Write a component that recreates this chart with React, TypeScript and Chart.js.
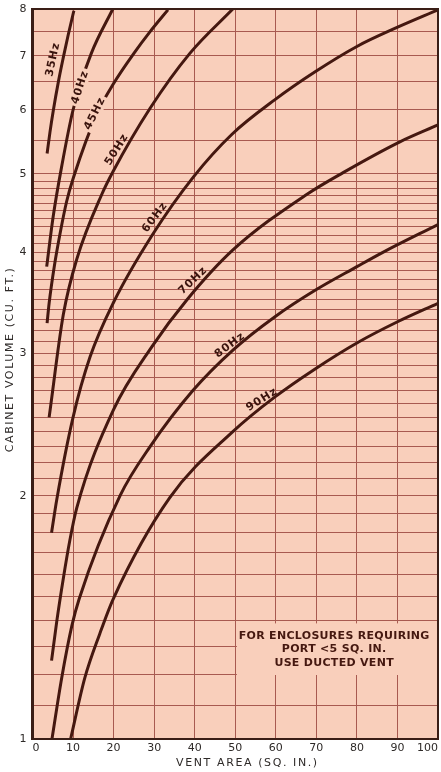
import { useEffect, useRef } from 'react';
import { Chart, registerables } from 'chart.js';

Chart.register(...registerables);

// ---- data ----
const VENT_AREA_TICKS = [0, 10, 20, 30, 40, 50, 60, 70, 80, 90, 100];
const VOLUME_TICK_LABELS = [1, 2, 3, 4, 5, 6, 7, 8];

const AREA_35 = [3.6, 4.3, 5.1, 6.4, 7.6, 8.8, 10.2];
const VOL_35 = [5.3, 5.63, 5.98, 6.51, 6.97, 7.43, 7.96];

const AREA_40 = [3.5, 5.1, 7.2, 10.0, 14.5, 19.8];
const VOL_40 = [3.84, 4.43, 5.11, 6.0, 7.05, 8.0];

const AREA_45 = [3.6, 4.1, 5.4, 6.8, 8.4, 10.1, 16.0, 20.0, 25.0, 29.0, 33.4];
const VOL_45 = [3.27, 3.46, 3.85, 4.22, 4.62, 4.95, 5.95, 6.47, 7.05, 7.5, 7.98];

const AREA_50 = [4.1, 7.6, 10.9, 17.1, 19.9, 29.0, 38.8, 49.4];
const VOL_50 = [2.5, 3.35, 3.92, 4.72, 5.04, 6.03, 7.05, 8.0];

const AREA_60 = [4.7, 6.0, 10.0, 14.2, 20.0, 29.5, 39.7, 49.2, 59.8, 69.7, 80.0, 89.9, 100];
const VOL_60 = [1.8, 1.98, 2.5, 2.97, 3.47, 4.2, 4.96, 5.6, 6.18, 6.69, 7.19, 7.59, 7.98];

const AREA_70 = [4.7, 6.0, 7.6, 9.2, 10.9, 19.9, 29.5, 38.0, 49.5, 67.7, 76.6, 90.6, 100];
const VOL_70 = [1.25, 1.4, 1.58, 1.76, 1.93, 2.55, 3.06, 3.49, 4.03, 4.72, 5.02, 5.48, 5.75];

const AREA_80 = [4.8, 7.2, 9.7, 11.5, 21.6, 29.0, 39.6, 49.5, 59.8, 69.7, 80.0, 86.4, 100];
const VOL_80 = [1.0, 1.19, 1.38, 1.49, 2.0, 2.3, 2.7, 3.03, 3.33, 3.59, 3.84, 4.0, 4.33];

const AREA_90 = [9.4, 12.9, 16.6, 19.9, 33.9, 49.4, 59.8, 69.7, 80.0, 89.9, 100];
const VOL_90 = [1.0, 1.19, 1.35, 1.49, 1.99, 2.4, 2.65, 2.87, 3.09, 3.28, 3.46];

const FREQ_LABELS = ['35Hz', '40Hz', '45Hz', '50Hz', '60Hz', '70Hz', '80Hz', '90Hz'];
// label anchor positions in data units (vent area, volume)
const LABEL_AREA = [5.06, 11.76, 15.4, 20.8, 30.2, 39.6, 48.7, 56.6];
const LABEL_VOLUME = [6.93, 6.4, 5.94, 5.36, 4.42, 3.69, 3.07, 2.63];
const LABEL_ANGLE = [-78, -72, -64, -58, -53, -44, -37, -32];
const LABEL_GAP = [false, true, true, false, false, false, false, false];

const NOTE_LINES = ['FOR ENCLOSURES REQUIRING', 'PORT <5 SQ. IN.', 'USE DUCTED VENT'];
const NOTE_BOX_AREA = [50.4, 100];
const NOTE_BOX_VOLUME = [1.2, 1.39];
const NOTE_CENTER_AREA = 74.4;

const X_TITLE = 'VENT AREA (SQ. IN.)';
const Y_TITLE = 'CABINET VOLUME (CU. FT.)';

// ---- styles ----
const PAPER = '#f9cfbb';
const GRID = '#a85a50';
const INK = '#451810';
const TEXT = '#2e2a28';
const FONT = "'DejaVu Sans', sans-serif";

const CURVES = [
  [AREA_35, VOL_35],
  [AREA_40, VOL_40],
  [AREA_45, VOL_45],
  [AREA_50, VOL_50],
  [AREA_60, VOL_60],
  [AREA_70, VOL_70],
  [AREA_80, VOL_80],
  [AREA_90, VOL_90],
];

function yGridValues(): number[] {
  const v: number[] = [];
  for (let i = 10; i <= 50; i++) v.push(i / 10);
  for (let i = 55; i <= 80; i += 5) v.push(i / 10);
  return v;
}

const paperPlugin = {
  id: 'paper',
  beforeDraw(chart: any) {
    const { ctx, chartArea: a } = chart;
    ctx.save();
    ctx.fillStyle = PAPER;
    ctx.fillRect(a.left, a.top, a.right - a.left, a.bottom - a.top);
    ctx.restore();
  },
  beforeDatasetsDraw(chart: any) {
    const { ctx } = chart;
    const xs = chart.scales.x;
    const ys = chart.scales.y;
    const l = xs.getPixelForValue(NOTE_BOX_AREA[0]);
    const r = xs.getPixelForValue(NOTE_BOX_AREA[1]);
    const t = ys.getPixelForValue(NOTE_BOX_VOLUME[1]);
    const b = ys.getPixelForValue(NOTE_BOX_VOLUME[0]);
    ctx.save();
    ctx.fillStyle = PAPER;
    ctx.fillRect(l, t, r - l, b - t);
    ctx.restore();
  },
  afterDatasetsDraw(chart: any) {
    const { ctx } = chart;
    const xs = chart.scales.x;
    const ys = chart.scales.y;
    ctx.save();
    ctx.font = `bold 11px ${FONT}`;
    (ctx as any).letterSpacing = '1px';
    ctx.textAlign = 'center';
    ctx.textBaseline = 'middle';
    FREQ_LABELS.forEach((txt, i) => {
      const px = xs.getPixelForValue(LABEL_AREA[i]);
      const py = ys.getPixelForValue(LABEL_VOLUME[i]);
      ctx.save();
      ctx.translate(px, py);
      ctx.rotate((LABEL_ANGLE[i] * Math.PI) / 180);
      if (LABEL_GAP[i]) {
        const w = ctx.measureText(txt).width + 4;
        ctx.fillStyle = PAPER;
        ctx.fillRect(-w / 2, -6, w, 12);
      }
      ctx.fillStyle = '#3a140e';
      ctx.fillText(txt, 0, 0);
      ctx.restore();
    });
    // note
    (ctx as any).letterSpacing = '0.3px';
    ctx.fillStyle = INK;
    const t = ys.getPixelForValue(NOTE_BOX_VOLUME[1]);
    const b = ys.getPixelForValue(NOTE_BOX_VOLUME[0]);
    const cx = xs.getPixelForValue(NOTE_CENTER_AREA);
    const cy = (t + b) / 2;
    NOTE_LINES.forEach((line, i) => {
      ctx.fillText(line, cx, cy + (i - 1) * 13.5);
    });
    ctx.restore();
  },
  afterDraw(chart: any) {
    const { ctx, chartArea: a } = chart;
    ctx.save();
    ctx.strokeStyle = '#3a1e16';
    ctx.lineWidth = 2;
    ctx.strokeRect(a.left, a.top, a.right - a.left, a.bottom - a.top);
    ctx.lineWidth = 3;
    ctx.beginPath();
    ctx.moveTo(a.left, a.top - 1);
    ctx.lineTo(a.left, a.bottom + 1);
    ctx.stroke();
    // axis titles
    ctx.fillStyle = TEXT;
    ctx.font = `11px ${FONT}`;
    (ctx as any).letterSpacing = '1.6px';
    ctx.textAlign = 'center';
    ctx.textBaseline = 'middle';
    ctx.fillText(X_TITLE, a.left + (a.right - a.left) * 0.53, a.bottom + 24);
    ctx.save();
    ctx.translate(10, a.top + (a.bottom - a.top) * 0.48);
    ctx.rotate(-Math.PI / 2);
    ctx.fillText(Y_TITLE, 0, 0);
    ctx.restore();
    ctx.restore();
  },
};

export default function App() {
  const ref = useRef<HTMLCanvasElement>(null);
  useEffect(() => {
    document.body.style.margin = '0';
    const canvas = ref.current;
    if (!canvas) return;
    const datasets = CURVES.map(([area, vol], i) => ({
      label: FREQ_LABELS[i],
      data: area.map((x, j) => ({ x, y: vol[j] })),
      borderColor: INK,
      borderWidth: 3,
      pointRadius: 0,
      fill: false,
      cubicInterpolationMode: 'monotone' as const,
    }));
    const gridVals = yGridValues();
    const chart = new Chart(canvas, {
      type: 'line',
      data: { datasets },
      options: {
        animation: false,
        responsive: false,
        maintainAspectRatio: false,
        events: [],
        layout: { padding: { top: 9, right: 3, left: 0, bottom: 0 } },
        plugins: { legend: { display: false }, tooltip: { enabled: false } },
        scales: {
          x: {
            type: 'linear',
            min: 0,
            max: 100,
            afterBuildTicks: (axis: any) => {
              axis.ticks = VENT_AREA_TICKS.map((v) => ({ value: v }));
            },
            afterFit: (axis: any) => {
              axis.height = 33;
              axis.paddingLeft = 0;
              axis.paddingRight = 0;
            },
            ticks: {
              align: 'inner',
              padding: 3,
              maxRotation: 0,
              autoSkip: false,
              color: TEXT,
              font: { family: FONT, size: 11 },
              callback: (v: any) => String(v),
            },
            grid: { color: GRID, lineWidth: 1, drawTicks: false },
            border: { display: false },
          },
          y: {
            type: 'logarithmic',
            min: 1,
            max: 8,
            afterBuildTicks: (axis: any) => {
              axis.ticks = gridVals.map((v) => ({ value: v }));
            },
            afterFit: (axis: any) => {
              axis.width = 32.5;
              axis.paddingTop = 0;
              axis.paddingBottom = 0;
            },
            ticks: {
              padding: 6,
              autoSkip: false,
              color: TEXT,
              font: { family: FONT, size: 11 },
              callback: (v: any) => (VOLUME_TICK_LABELS.includes(Number(v)) ? String(v) : ''),
            },
            grid: { color: GRID, lineWidth: 1, drawTicks: false },
            border: { display: false },
          },
        },
      },
      plugins: [paperPlugin],
    });
    return () => chart.destroy();
  }, []);
  return (
    <div style={{ width: 441, height: 772, position: 'relative' }}>
      <canvas ref={ref} width={441} height={772} style={{ display: 'block', width: 441, height: 772 }} />
    </div>
  );
}
